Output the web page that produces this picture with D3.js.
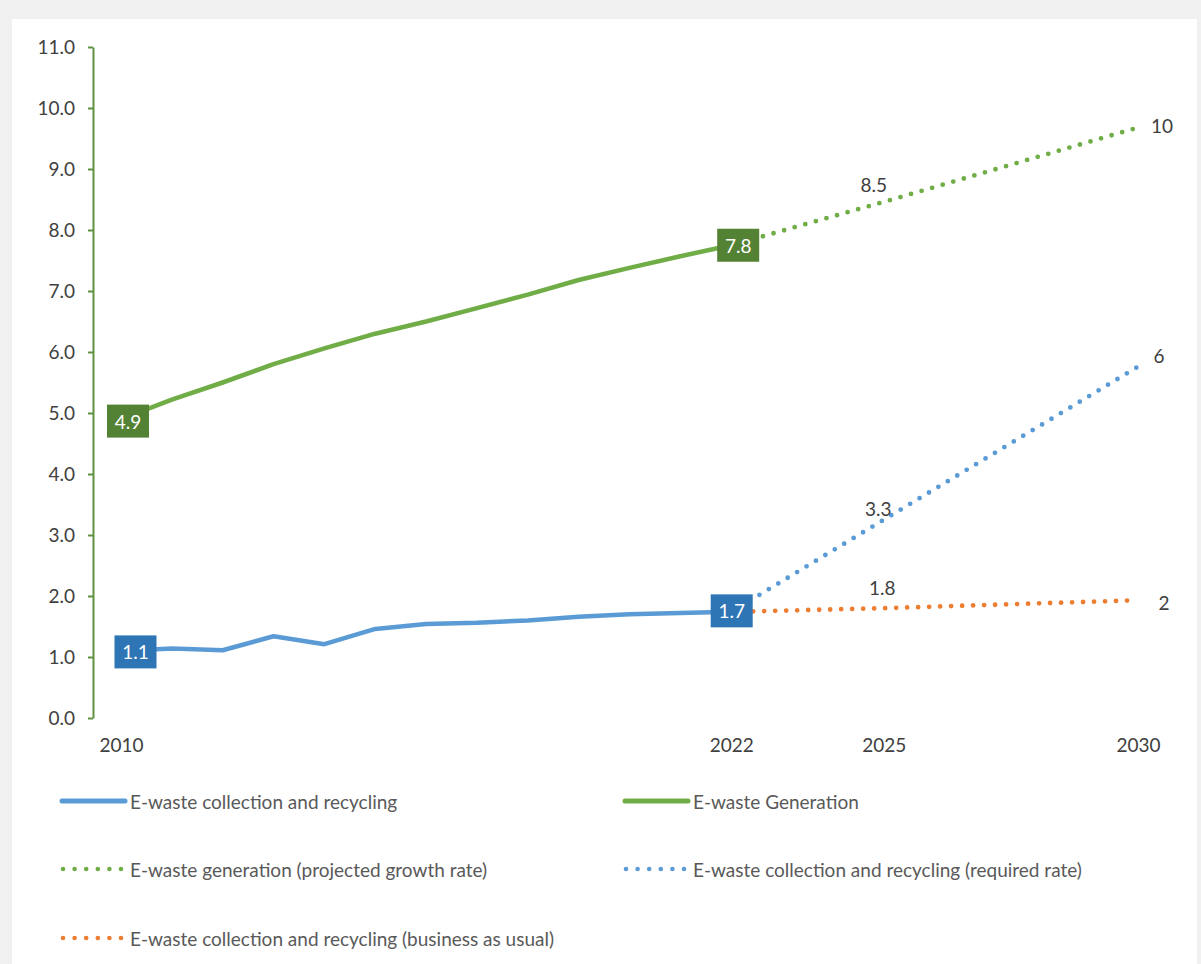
<!DOCTYPE html>
<html>
<head>
<meta charset="utf-8">
<script src="https://cdn.jsdelivr.net/npm/d3@7"></script>
<style>
  html, body { margin: 0; padding: 0; background: #f0f0f0; }
  svg { display: block; }
  text { font-family: Lato, "Open Sans", sans-serif; }
</style>
</head>
<body>
<svg id="chart" width="1201" height="964"></svg>
<script>
// Historical series (Mt), one value per year
const years = [2010, 2011, 2012, 2013, 2014, 2015, 2016, 2017, 2018, 2019, 2020, 2021, 2022];
const generation = [4.9, 5.22, 5.5, 5.8, 6.06, 6.3, 6.5, 6.72, 6.94, 7.18, 7.38, 7.57, 7.75];
const collection = [1.1, 1.14, 1.11, 1.34, 1.21, 1.46, 1.54, 1.56, 1.6, 1.66, 1.7, 1.72, 1.74];

// Projections to 2030
const projYears = [2022, 2025, 2030];
const generationProjected = [7.75, 8.46, 9.68];
const collectionRequired = [1.74, 3.25, 5.76];
const collectionBAU = [1.74, 1.8, 1.93];

// Axis ticks
const yTicks = [0, 1, 2, 3, 4, 5, 6, 7, 8, 9, 10, 11];
const xTicks = [2010, 2022, 2025, 2030];

// Legend entries
const legendLabels = [
  "E-waste collection and recycling",
  "E-waste Generation",
  "E-waste generation (projected growth rate)",
  "E-waste collection and recycling (required rate)",
  "E-waste collection and recycling (business as usual)"
];

const C = {
  blue: "#5B9BD5", green: "#70AD47", orange: "#ED7D31",
  darkBlue: "#2E75B6", darkGreen: "#548235",
  axis: "#5E9140", tick: "#404040", legend: "#595959"
};

const svg = d3.select("#chart");

// white chart panel
svg.append("rect").attr("x", 12).attr("y", 19).attr("width", 1185).attr("height", 945).attr("fill", "#ffffff");

const x = d3.scaleLinear().domain([2010, 2030]).range([121, 1138]);
const y = d3.scaleLinear().domain([0, 11]).range([718, 47]);

// y axis
const yAxis = svg.append("g").attr("transform", "translate(93,0)")
  .call(d3.axisLeft(y).tickValues(yTicks).tickFormat(d3.format(".1f"))
    .tickSize(5).tickSizeOuter(0).tickPadding(13));
yAxis.select(".domain").attr("stroke", C.axis).attr("stroke-width", 2);
yAxis.selectAll(".tick line").attr("stroke", C.axis).attr("stroke-width", 2);
yAxis.selectAll(".tick text").attr("fill", C.tick).attr("font-size", 19);

// x axis labels (no line)
const xAxis = svg.append("g").attr("transform", "translate(0,718)")
  .call(d3.axisBottom(x).tickValues(xTicks).tickFormat(d3.format("d")).tickSize(0).tickPadding(21));
xAxis.select(".domain").remove();
xAxis.selectAll(".tick text").attr("fill", C.tick).attr("font-size", 19);

const line = d3.line().x(d => x(d[0])).y(d => y(d[1]));
const zip = (xs, vs) => xs.map((v, i) => [v, vs[i]]);

// solid historical lines
svg.append("path").datum(zip(years, collection)).attr("d", line)
  .attr("fill", "none").attr("stroke", C.blue).attr("stroke-width", 4.5).attr("stroke-linejoin", "round");
svg.append("path").datum(zip(years, generation)).attr("d", line)
  .attr("fill", "none").attr("stroke", C.green).attr("stroke-width", 4.5).attr("stroke-linejoin", "round");

// dotted projections
const dotted = (vals, color) => svg.append("path").datum(zip(projYears, vals)).attr("d", line)
  .attr("fill", "none").attr("stroke", color).attr("stroke-width", 4.8)
  .attr("stroke-linecap", "round").attr("stroke-dasharray", "0 11");
dotted(generationProjected, C.green);
dotted(collectionRequired, C.blue);
dotted(collectionBAU, C.orange);

// boxed labels at the historical end points
const fmt1 = d3.format(".1f");
const fmt0 = d3.format(".0f");
const boxed = [
  { yr: 2010, v: generation[0], fill: C.darkGreen, dx: 7, dy: 2 },
  { yr: 2022, v: generation[generation.length - 1], fill: C.darkGreen, dx: 7, dy: 0 },
  { yr: 2010, v: collection[0], fill: C.darkBlue, dx: 14.5, dy: 1 },
  { yr: 2022, v: collection[collection.length - 1], fill: C.darkBlue, dx: 0.5, dy: -1 }
];
boxed.forEach(b => {
  const cx = x(b.yr) + b.dx, cy = y(b.v) + b.dy;
  svg.append("rect").attr("x", cx - 21).attr("y", cy - 16.5).attr("width", 42).attr("height", 33).attr("fill", b.fill);
  svg.append("text").attr("x", cx).attr("y", cy).attr("text-anchor", "middle").attr("dominant-baseline", "central")
    .attr("fill", "#ffffff").attr("font-size", 19).text(fmt1(b.v));
});

// plain value labels on the projections
const plain = [
  { yr: 2025, v: generationProjected[1], f: fmt1, dx: -10, dy: -17 },
  { yr: 2030, v: generationProjected[2], f: fmt0, dx: 24, dy: -2 },
  { yr: 2025, v: collectionRequired[1], f: fmt1, dx: -5.5, dy: -11 },
  { yr: 2030, v: collectionRequired[2], f: fmt0, dx: 21, dy: -11 },
  { yr: 2025, v: collectionBAU[1], f: fmt1, dx: -1.5, dy: -21 },
  { yr: 2030, v: collectionBAU[2], f: fmt0, dx: 26, dy: 2 }
];
plain.forEach(p => {
  svg.append("text").attr("x", x(p.yr) + p.dx).attr("y", y(p.v) + p.dy)
    .attr("text-anchor", "middle").attr("dominant-baseline", "central")
    .attr("fill", C.tick).attr("font-size", 19).text(p.f(p.v));
});

// legend
const legendItems = [
  { label: legendLabels[0], color: C.blue, dots: false, col: 0, row: 0 },
  { label: legendLabels[1], color: C.green, dots: false, col: 1, row: 0 },
  { label: legendLabels[2], color: C.green, dots: true, col: 0, row: 1 },
  { label: legendLabels[3], color: C.blue, dots: true, col: 1, row: 1 },
  { label: legendLabels[4], color: C.orange, dots: true, col: 0, row: 2 }
];
const colX = [62, 625], rowY = [801, 869, 938];
legendItems.forEach(it => {
  const lx = colX[it.col], ly = rowY[it.row];
  const g = svg.append("g");
  if (it.dots) {
    g.append("line").attr("x1", lx + 1).attr("x2", lx + 60).attr("y1", ly).attr("y2", ly)
      .attr("stroke", it.color).attr("stroke-width", 4.6).attr("stroke-linecap", "round").attr("stroke-dasharray", "0 11.6");
  } else {
    g.append("line").attr("x1", lx).attr("x2", lx + 63).attr("y1", ly).attr("y2", ly)
      .attr("stroke", it.color).attr("stroke-width", 5).attr("stroke-linecap", "round");
  }
  g.append("text").attr("x", lx + 68).attr("y", ly).attr("dominant-baseline", "central")
    .attr("fill", C.legend).attr("font-size", 19).text(it.label);
});
</script>
</body>
</html>
